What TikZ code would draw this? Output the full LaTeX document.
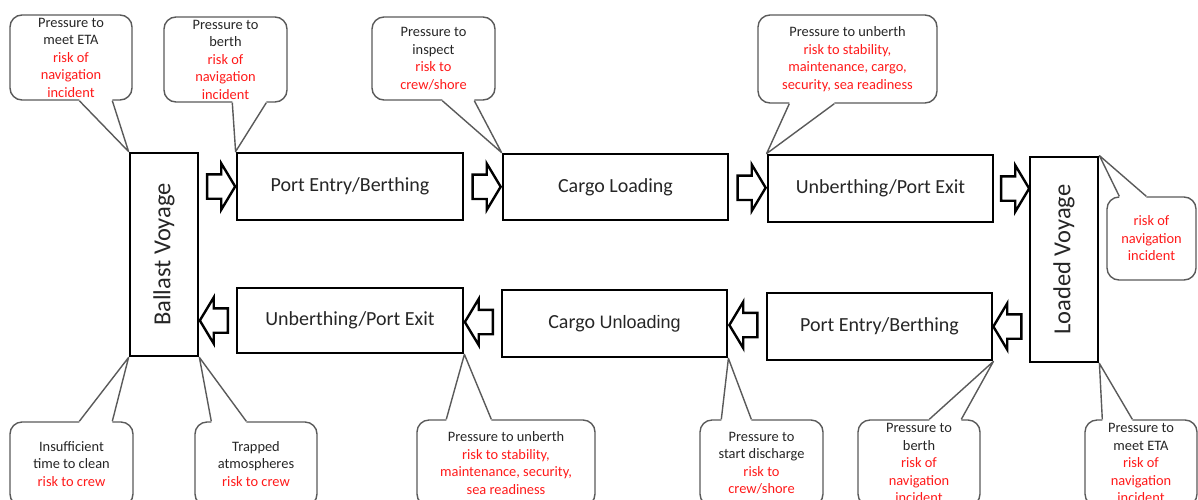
\documentclass[tikz,border=0pt]{standalone}
\usepackage{fontspec}
\setmainfont{Carlito}
\newfontfamily\arialf{Liberation Sans}
\usetikzlibrary{shapes.arrows,calc}
\definecolor{txt}{HTML}{262626}
\definecolor{riskred}{HTML}{FF1A1A}
\definecolor{callgray}{HTML}{5A5A5A}
\tikzset{
  stagebox/.style={draw=black, line width=2.8pt, fill=white, inner sep=0pt, text=txt, font=\fontsize{20}{24}\selectfont},
  voybox/.style={stagebox, font=\fontsize{24.5}{28}\selectfont},
  callbox/.style={draw=callgray, line width=1.4pt, rounded corners=12pt, fill=white, align=center, inner sep=0pt, text=txt, font=\fontsize{14.4}{17.5}\selectfont},
  callptr/.style={draw=callgray, line width=1.4pt, line join=round},
  flowarrow/.style={single arrow, draw=black, line width=2.4pt, fill=white, inner xsep=0pt, inner ysep=11pt, minimum height=28pt, single arrow head extend=11pt, single arrow tip angle=118, anchor=center},
  backarrow/.style={flowarrow, shape border rotate=180},
}
\newcommand{\rk}[1]{\textcolor{riskred}{#1}}
% pointer leaving the bottom edge of a callout box
\newcommand{\ptrdown}[4]{%
  \fill[white] ($(#1.south west)+(#2,0)+(0,2pt)$) -- ($(#1.south west)+(#2,0)$) -- (#4) -- ($(#1.south west)+(#3,0)$) -- ($(#1.south west)+(#3,0)+(0,2pt)$) -- cycle;
  \draw[callptr] ($(#1.south west)+(#2,0)$) -- (#4) -- ($(#1.south west)+(#3,0)$);}
% pointer leaving the top edge of a callout box
\newcommand{\ptrup}[4]{%
  \fill[white] ($(#1.north west)+(#2,0)+(0,-2pt)$) -- ($(#1.north west)+(#2,0)$) -- (#4) -- ($(#1.north west)+(#3,0)$) -- ($(#1.north west)+(#3,0)+(0,-2pt)$) -- cycle;
  \draw[callptr] ($(#1.north west)+(#2,0)$) -- (#4) -- ($(#1.north west)+(#3,0)$);}
\begin{document}
\begin{tikzpicture}[x=1pt,y=-1pt]
\useasboundingbox (0,0) rectangle (1198,499);
\clip (0,0) rectangle (1198,499);
\fill[white] (0,0) rectangle (1198,499);

% stage boxes
\node[voybox, minimum width=68pt, minimum height=203pt] (ballast) at (164,254.5) {\rotatebox{90}{Ballast Voyage}};
\node[stagebox, minimum width=226pt, minimum height=67pt] (pe1) at (350,186.5) {Port Entry/Berthing};
\node[stagebox, minimum width=225pt, minimum height=66pt] (cl) at (615.5,187) {Cargo Loading};
\node[stagebox, minimum width=225pt, minimum height=67pt] (ub1) at (880.5,188.5) {Unberthing/Port Exit};
\node[voybox, minimum width=68pt, minimum height=205pt] (lv) at (1064,259.5) {\rotatebox{90}{Loaded Voyage}};
\node[stagebox, minimum width=225pt, minimum height=67pt] (pe2) at (879.5,326.5) {Port Entry/Berthing};
\node[stagebox, minimum width=225pt, minimum height=67pt] (cu) at (614.5,323.5) {Cargo {\arialf\fontsize{18}{22}\selectfont Unloading}};
\node[stagebox, minimum width=226pt, minimum height=65pt] (ub2) at (350,320.5) {Unberthing/Port Exit};

% block arrows
\node[flowarrow] (a1) at ($(ballast.east |- pe1.west)!0.5!(pe1.west)$) {};
\node[flowarrow] (a2) at ($(pe1.east)!0.5!(cl.west)$) {};
\node[flowarrow] (a3) at ($(cl.east)!0.5!(ub1.west)$) {};
\node[flowarrow] (a4) at ($(ub1.east)!0.5!(lv.west |- ub1.east)$) {};
\node[backarrow] (b1) at ($(lv.west |- pe2.east)!0.5!(pe2.east)$) {};
\node[backarrow] (b2) at ($(cu.east)!0.5!(pe2.west)$) {};
\node[backarrow] (b3) at ($(ub2.east)!0.5!(cu.west)$) {};
\node[backarrow] (b4) at ($(ballast.east |- ub2.west)!0.5!(ub2.west)$) {};

% callouts, top
\node[callbox, minimum width=122pt, minimum height=85pt] (c1) at (71,57.5)
  {Pressure to\\meet ETA\\\rk{risk of}\\\rk{navigation}\\\rk{incident}};
\node[callbox, minimum width=123pt, minimum height=85pt] (c2) at (225.5,59.5)
  {Pressure to\\berth\\\rk{risk of}\\\rk{navigation}\\\rk{incident}};
\node[callbox, minimum width=123pt, minimum height=83pt] (c3) at (433.5,58.5)
  {Pressure to\\inspect\\\rk{risk to}\\\rk{crew/shore}};
\node[callbox, minimum width=179pt, minimum height=88pt] (c4) at (847.5,59)
  {Pressure to unberth\\\rk{risk to stability,}\\\rk{maintenance, cargo,}\\\rk{security, sea readiness}};
\node[callbox, minimum width=89pt, minimum height=83pt] (c5) at (1151.5,238.5)
  {\rk{risk of}\\\rk{navigation}\\\rk{incident}};
% callouts, bottom
\node[callbox, minimum width=123pt, minimum height=84pt] (c6) at (71.5,464)
  {Insufficient\\time to clean\\\rk{risk to crew}};
\node[callbox, minimum width=122pt, minimum height=84pt] (c7) at (256,464)
  {Trapped\\atmospheres\\\rk{risk to crew}};
\node[callbox, minimum width=178pt, minimum height=86pt] (c8) at (506,463)
  {Pressure to unberth\\\rk{risk to stability,}\\\rk{maintenance, security,}\\\rk{sea readiness}};
\node[callbox, minimum width=123pt, minimum height=86pt] (c9) at (761.5,463)
  {Pressure to\\start discharge\\\rk{risk to}\\\rk{crew/shore}};
\node[callbox, minimum width=122pt, minimum height=86pt] (c10) at (919,463)
  {Pressure to\\berth\\\rk{risk of}\\\rk{navigation}\\\rk{incident}};
\node[callbox, minimum width=112pt, minimum height=86pt] (c11) at (1141,463)
  {Pressure to\\meet ETA\\\rk{risk of}\\\rk{navigation}\\\rk{incident}};

% pointers
\ptrdown{c1}{70}{103}{ballast.north west}
\ptrdown{c2}{69}{103}{pe1.north west}
\ptrdown{c3}{71}{103}{cl.north west}
\ptrdown{c4}{32}{77}{ub1.north west}
\ptrup{c5}{13}{40}{lv.north east}
\ptrup{c6}{70}{103}{ballast.south west}
\ptrup{c7}{17}{52}{ballast.south east}
\ptrup{c8}{30}{75}{ub2.south east}
\ptrup{c9}{22}{52}{cu.south east}
\ptrup{c10}{72}{104}{pe2.south east}
\ptrup{c11}{18}{48}{lv.south east}
\end{tikzpicture}
\end{document}
